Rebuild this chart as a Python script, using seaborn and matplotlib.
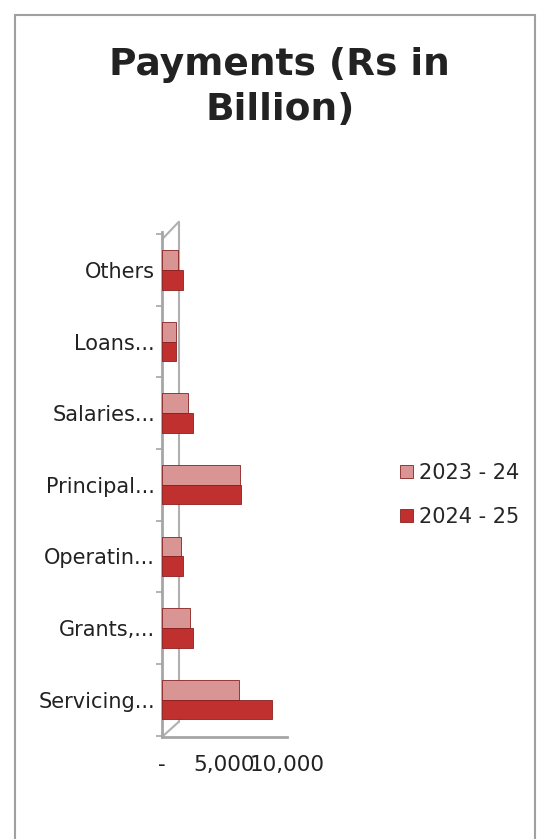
import matplotlib
matplotlib.use("Agg")
import matplotlib.pyplot as plt
import seaborn as sns
import pandas as pd
from matplotlib.patches import Rectangle

categories = ["Others", "Loans...", "Salaries...", "Principal...", "Operatin...", "Grants,...", "Servicing..."]
series_names = ["2023 - 24", "2024 - 25"]
values_2023 = [1300, 1150, 2100, 6250, 1500, 2250, 6200]
values_2024 = [1700, 1100, 2500, 6350, 1700, 2450, 8800]
x_ticks = [0, 5000, 10000]
x_tick_labels = ["-", "5,000", "10,000"]
colors = ["#D99594", "#C0302E"]

df = pd.DataFrame({
    "category": categories * 2,
    "series": [series_names[0]] * len(categories) + [series_names[1]] * len(categories),
    "value": values_2023 + values_2024,
})

sns.set_theme(style="white")
plt.rcParams["font.family"] = ["DejaVu Sans"]

fig = plt.figure(figsize=(5.38, 8.39), dpi=100)
ax = fig.add_axes([0.301, 0.1216, 0.232, 0.602])

sns.barplot(data=df, x="value", y="category", hue="series", order=categories,
            hue_order=series_names, palette=colors, orient="h", width=0.55,
            ax=ax, saturation=1, edgecolor="#8a2020", linewidth=0.6, zorder=3)

ax.set_xlim(0, 10000)
ax.set_ylim(6.52, -0.53)
ax.set_xticks(x_ticks)
ax.set_xticklabels(x_tick_labels, fontsize=15.5, color="#222222")
ax.tick_params(axis="y", labelsize=15, colors="#222222", length=0, pad=5)
ax.tick_params(axis="x", length=4, color="#999999", pad=9)
ax.set_xlabel("")
ax.set_ylabel("")
for s in ["top", "right"]:
    ax.spines[s].set_visible(False)
for s in ["left", "bottom"]:
    ax.spines[s].set_color("#A6A6A6")
    ax.spines[s].set_linewidth(2)
ax.set_yticks([i + 0.5 for i in range(-1, 7)], minor=True)
ax.tick_params(axis="y", which="minor", length=4, color="#A6A6A6", width=1.2, left=True)

# 3-D style back wall outline
ax.plot([0.135, 0.135], [0.03, 1.02], transform=ax.transAxes, clip_on=False,
        color="#B0B0B0", lw=1.5, zorder=1)
ax.plot([0.0, 0.135], [0.985, 1.02], transform=ax.transAxes, clip_on=False,
        color="#B0B0B0", lw=1.5, zorder=1)
ax.plot([0.0, 0.135], [0.0, 0.03], transform=ax.transAxes, clip_on=False,
        color="#B0B0B0", lw=1.5, zorder=1)

leg = ax.legend(loc="center left", bbox_to_anchor=(1.76, 0.479), frameon=False,
                fontsize=15, handlelength=0.6, handleheight=0.6, labelspacing=1.15,
                handletextpad=0.3)

fig.text(0.52, 0.896, "Payments (Rs in\nBillion)", ha="center", va="center",
         fontsize=27, fontweight="bold", color="#222222", linespacing=1.32)

fig.patches.append(Rectangle((15 / 538, -0.01), (535 - 15) / 538, 1 - 15 / 839 + 0.01,
                             transform=fig.transFigure, fill=False,
                             edgecolor="#A0A0A0", linewidth=1.5))

fig.savefig("out.png", dpi=100)
